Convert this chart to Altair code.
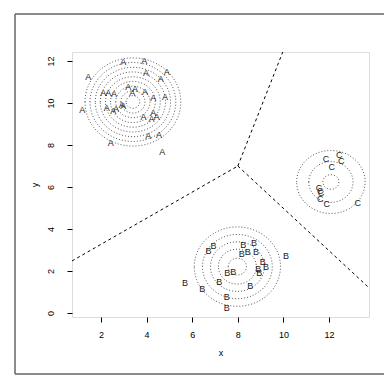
import altair as alt
import pandas as pd

# ---- data ----
A_x = [2.98, 3.90, 1.44, 3.97, 4.88, 4.62, 2.10, 2.32, 2.57, 3.20, 3.49, 3.37, 3.93, 4.29, 4.81,
       1.18, 2.25, 2.54, 2.66, 2.91, 2.98, 3.86, 4.29, 4.44, 4.22, 4.07, 4.54, 2.43, 4.69]
A_y = [11.97, 12.00, 11.25, 11.44, 11.49, 11.13, 10.49, 10.49, 10.43, 10.75, 10.65, 10.49, 10.51, 10.22, 10.27,
       9.67, 9.75, 9.63, 9.72, 9.90, 9.86, 9.35, 9.51, 9.35, 9.22, 8.43, 8.48, 8.11, 7.68]

B_x = [6.71, 6.93, 8.24, 8.71, 8.17, 8.43, 8.80, 10.11, 9.09, 9.24, 8.90, 8.94, 7.54, 7.80,
       5.68, 6.44, 7.19, 8.54, 7.51, 7.51]
B_y = [2.97, 3.19, 3.24, 3.35, 2.81, 2.89, 2.89, 2.71, 2.44, 2.20, 2.08, 1.92, 1.89, 1.94,
       1.44, 1.16, 1.49, 1.29, 0.78, 0.25]

C_x = [11.87, 12.45, 12.53, 12.12, 11.56, 11.61, 11.65, 11.61, 11.90, 13.26]
C_y = [7.32, 7.52, 7.25, 6.94, 5.94, 5.82, 5.73, 5.41, 5.19, 5.22]

# contour ring centres and radii (data units)
ring_cluster = ["A"] * 9 + ["B"] * 5 + ["C"] * 3
ring_cx = [3.40] * 9 + [7.98] * 5 + [12.08] * 3
ring_cy = [10.05] * 9 + [2.21] * 5 + [6.24] * 3
ring_r = [0.30, 0.53, 0.75, 0.98, 1.20, 1.43, 1.65, 1.88, 2.10,
          0.40, 0.83, 1.18, 1.53, 1.89,
          0.35, 0.97, 1.50]

# boundary segments (endpoints)
seg_id = ["s1", "s1", "s2", "s2", "s3", "s3"]
seg_x = [0.73, 8.00, 8.00, 9.97, 8.00, 13.75]
seg_y = [2.48, 7.00, 7.00, 12.43, 7.00, 1.20]

x_ticks = [2, 4, 6, 8, 10, 12]
y_ticks = [0, 2, 4, 6, 8, 10, 12]

# ---- layout ----
W, H = 297, 265
XDOM = [0.73, 13.75]
YDOM = [-0.19, 12.43]
FONT = "Liberation Sans"
px_per_x = W / (XDOM[1] - XDOM[0])
px_per_y = H / (YDOM[1] - YDOM[0])
ratio = px_per_y / px_per_x
RMAX = 3.0

pts = pd.DataFrame({
    "x": A_x + B_x + C_x,
    "y": A_y + B_y + C_y,
    "label": ["A"] * len(A_x) + ["B"] * len(B_x) + ["C"] * len(C_x),
})
rings = pd.DataFrame({"cluster": ring_cluster, "x": ring_cx, "y": ring_cy, "r": ring_r})
segs = pd.DataFrame({"seg": seg_id, "x": seg_x, "y": seg_y})

xscale = alt.Scale(domain=XDOM, nice=False, zero=False)
yscale = alt.Scale(domain=YDOM, nice=False, zero=False)

xaxis = alt.Axis(values=x_ticks, domain=False, grid=False, tickSize=5, tickColor="black",
                 labelFontSize=9, labelFont=FONT, labelColor="black", labelPadding=8,
                 title="x", titleFont=FONT, titleFontSize=9, titleFontWeight="normal",
                 titleColor="black", titleY=38, titleBaseline="alphabetic")
yaxis = alt.Axis(values=y_ticks, domain=False, grid=False, tickSize=5, tickColor="black",
                 labelFontSize=9, labelFont=FONT, labelColor="black", labelPadding=12,
                 labelAngle=270, labelAlign="center", labelBaseline="bottom",
                 title="y", titleFont=FONT, titleFontSize=9, titleFontWeight="normal",
                 titleColor="black", titleX=-35, titleBaseline="alphabetic")

ellipse = f"M-1,0A1,{ratio:.4f},0,1,1,1,0A1,{ratio:.4f},0,1,1,-1,0Z"

ring_layer = alt.Chart(rings).mark_point(
    shape=ellipse, filled=False, color="#444", strokeWidth=0.9, strokeDash=[1, 2], opacity=1
).encode(
    x=alt.X("x:Q", scale=xscale, axis=xaxis),
    y=alt.Y("y:Q", scale=yscale, axis=yaxis),
    size=alt.Size("r:Q", legend=None,
                  scale=alt.Scale(type="pow", exponent=2, domain=[0, RMAX],
                                  range=[0, (2 * px_per_x * RMAX) ** 2])),
    detail="cluster:N",
)

seg_layer = alt.Chart(segs).mark_line(color="black", strokeWidth=1, strokeDash=[3, 3]).encode(
    x=alt.X("x:Q", scale=xscale),
    y=alt.Y("y:Q", scale=yscale),
    detail="seg:N",
)

txt_layer = alt.Chart(pts).mark_text(font=FONT, fontSize=9, color="#222", align="center",
                                     baseline="middle").encode(
    x=alt.X("x:Q", scale=xscale),
    y=alt.Y("y:Q", scale=yscale),
    text="label:N",
)

one = alt.Data(values=[{"a": 1}])
frame_col = "#666"
frame_left = alt.Chart(one).mark_rule(color=frame_col, strokeWidth=1.5).encode(
    x=alt.value(-57), y=alt.value(-38), y2=alt.value(322))
frame_top = alt.Chart(one).mark_rule(color=frame_col, strokeWidth=1.5).encode(
    x=alt.value(-57), x2=alt.value(340), y=alt.value(-38))
frame_bot = alt.Chart(one).mark_rule(color=frame_col, strokeWidth=1.5).encode(
    x=alt.value(-57), x2=alt.value(340), y=alt.value(322))

chart = alt.layer(
    ring_layer, seg_layer, txt_layer, frame_left, frame_top, frame_bot
).properties(
    width=W, height=H,
    autosize=alt.AutoSizeParams(type="none"),
    padding={"left": 64, "top": 44, "right": 15, "bottom": 58},
).configure_view(
    stroke="#333", strokeWidth=1
).configure(background="white")

chart.save("out.html", embed_options={"renderer": "svg", "actions": False})
